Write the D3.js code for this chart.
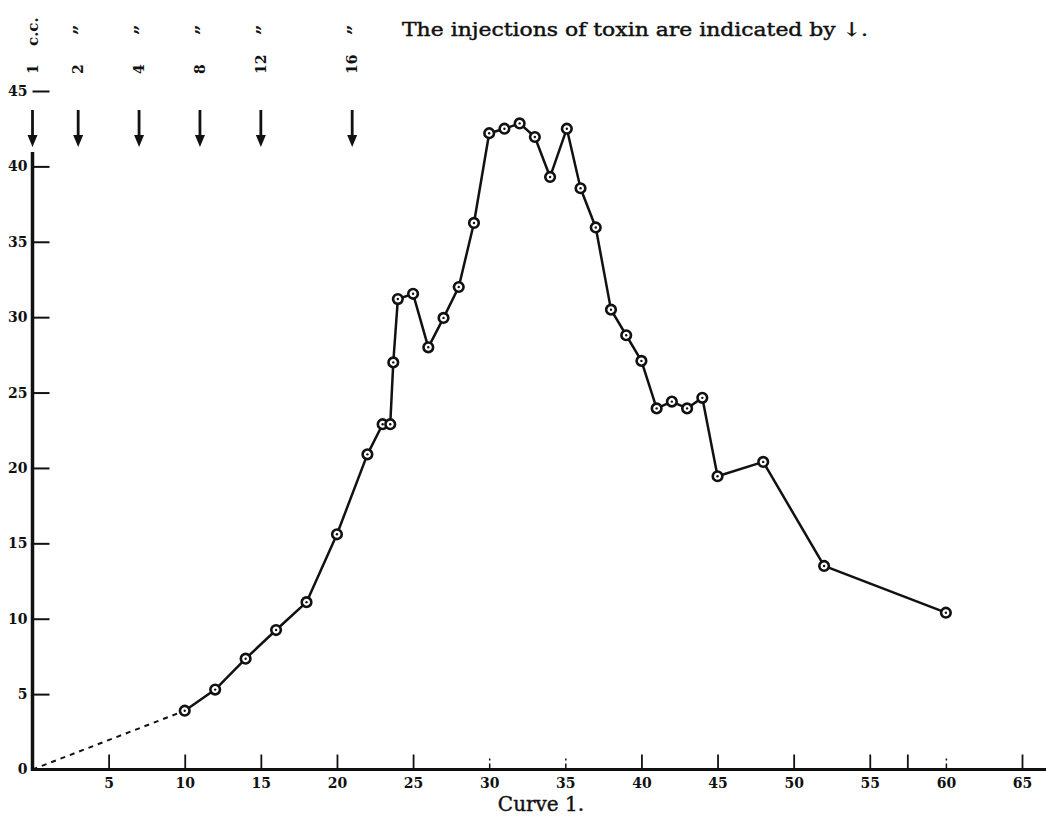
<!DOCTYPE html>
<html>
<head>
<meta charset="utf-8">
<script src="https://cdn.jsdelivr.net/npm/d3@7"></script>
<style>
  html, body { margin: 0; padding: 0; background: #fff; }
  svg { display: block; }
  .tick text { font-family: "DejaVu Serif", serif; font-weight: bold; font-size: 14px; fill: #111; }
</style>
</head>
<body>
<svg id="chart" width="1046" height="824"></svg>
<script>
// Temperature-like curve over days, with toxin injection days and doses
const days = [10, 12, 14, 16, 18, 20, 22, 23, 23.5, 23.7, 24, 25, 26, 27, 28, 29, 30, 31, 32, 33,
              34, 35.1, 36, 37, 38, 39, 40, 41, 42, 43, 44, 45, 48, 52, 60];
const values = [3.9, 5.3, 7.35, 9.25, 11.1, 15.6, 20.9, 22.9, 22.9, 27.0, 31.2, 31.55, 28.0, 29.95, 32.0,
                36.25, 42.2, 42.5, 42.85, 41.95, 39.3, 42.5, 38.55, 35.95, 30.5, 28.8, 27.1, 23.95,
                24.4, 23.95, 24.65, 19.45, 20.4, 13.5, 10.4];

const injectionDays = [0, 3, 7, 11, 15, 21];
const injectionDoses = ["1", "2", "4", "8", "12", "16"];

const xTickValues = [5, 10, 15, 20, 25, 30, 35, 40, 45, 50, 55, 60, 65];
const xExtraTicks = [57.5];
const xFaintTicks = [30, 35, 60];
const yTickValues = [5, 10, 15, 20, 25, 30, 35, 40, 45];

const svg = d3.select("#chart");
const ink = "#111";

const x = d3.scaleLinear().domain([0, 65]).range([32.5, 1022]);
const y = d3.scaleLinear().domain([0, 45]).range([769.5, 91]);

// y axis: ticks pointing into the plot, labels on the left
const yAxis = svg.append("g")
  .attr("transform", `translate(${x(0)},0)`)
  .call(d3.axisLeft(y).tickValues(yTickValues).tickSize(-17).tickPadding(5).tickFormat(d3.format("d")));
yAxis.select(".domain").remove();
yAxis.selectAll(".tick line").attr("stroke", ink).attr("stroke-width", 2);

// zero label at the origin
svg.append("text")
  .attr("x", x(0) - 5).attr("y", y(0)).attr("dy", "0.32em")
  .attr("text-anchor", "end")
  .style("font-family", "DejaVu Serif, serif").style("font-weight", "bold").style("font-size", "14px")
  .attr("fill", ink)
  .text("0");

// vertical axis line
svg.append("line")
  .attr("x1", x(0)).attr("x2", x(0))
  .attr("y1", 152).attr("y2", y(0) + 1.5)
  .attr("stroke", ink).attr("stroke-width", 3.5);

// x axis: ticks pointing up, labels below
const xAxis = svg.append("g")
  .attr("transform", `translate(0,${y(0)})`)
  .call(d3.axisBottom(x).tickValues(xTickValues).tickSize(-15).tickPadding(9).tickFormat(d3.format("d")));
xAxis.select(".domain").remove();
xAxis.selectAll(".tick line")
  .attr("stroke", ink).attr("stroke-width", 1.8)
  .each(function(d) {
    if (xFaintTicks.includes(d)) {
      d3.select(this).attr("y2", -13).attr("stroke-dasharray", "6,3,2,20").attr("stroke-width", 1.5);
    }
  });

xAxis.selectAll(".extra")
  .data(xExtraTicks)
  .join("line")
  .attr("x1", d => x(d)).attr("x2", d => x(d))
  .attr("y1", 0).attr("y2", -15)
  .attr("stroke", ink).attr("stroke-width", 1.8);

// horizontal axis line
svg.append("line")
  .attr("x1", x(0) - 1.5).attr("x2", 1046)
  .attr("y1", y(0)).attr("y2", y(0))
  .attr("stroke", ink).attr("stroke-width", 3);

// dashed lead-in from the origin to the first observation
svg.append("line")
  .attr("x1", x(0)).attr("y1", y(0))
  .attr("x2", x(days[0])).attr("y2", y(values[0]))
  .attr("stroke", ink).attr("stroke-width", 2).attr("stroke-dasharray", "5,5");

// the curve
const pts = days.map((d, i) => [d, values[i]]);
svg.append("path")
  .datum(pts)
  .attr("fill", "none")
  .attr("stroke", ink)
  .attr("stroke-width", 2.5)
  .attr("stroke-linejoin", "round")
  .attr("d", d3.line().x(d => x(d[0])).y(d => y(d[1])));

// ringed markers
const marks = svg.append("g").selectAll("g")
  .data(pts)
  .join("g")
  .attr("transform", d => `translate(${x(d[0])},${y(d[1])})`);
marks.append("circle").attr("r", 4.8).attr("fill", "#fff").attr("stroke", ink).attr("stroke-width", 2.6);
marks.append("circle").attr("r", 1.2).attr("fill", ink);

// injection arrows
const arrows = svg.append("g").selectAll("g")
  .data(injectionDays)
  .join("g")
  .attr("transform", d => `translate(${x(d)},0)`);
arrows.append("line")
  .attr("x1", 0).attr("x2", 0).attr("y1", 110).attr("y2", 138)
  .attr("stroke", ink).attr("stroke-width", 2.8);
arrows.append("path")
  .attr("d", "M-5,135 L5,135 L0,147 Z")
  .attr("fill", ink);

// dose labels, set vertically above each arrow
const doseStyle = sel => sel
  .style("font-family", "DejaVu Serif, serif")
  .style("font-weight", "bold")
  .style("font-size", "14px")
  .attr("fill", ink);

svg.append("g").selectAll("text")
  .data(injectionDays)
  .join("text")
  .attr("transform", d => `translate(${x(d) + 5},74) rotate(-90)`)
  .attr("text-anchor", "start")
  .call(doseStyle)
  .text((d, i) => injectionDoses[i]);

svg.append("text")
  .attr("transform", `translate(${x(injectionDays[0]) + 5},46) rotate(-90)`)
  .attr("text-anchor", "start")
  .call(doseStyle)
  .style("font-size", "15px")
  .text("c.c.");

svg.append("g").selectAll("text")
  .data(injectionDays.slice(1))
  .join("text")
  .attr("transform", d => `translate(${x(d) + 9},35) rotate(-90)`)
  .attr("text-anchor", "start")
  .call(doseStyle)
  .style("font-size", "18px")
  .text("\u201D");

// note on the arrows
svg.append("text")
  .attr("x", 402).attr("y", 36)
  .attr("textLength", 466).attr("lengthAdjust", "spacingAndGlyphs")
  .style("font-family", "DejaVu Serif, serif").style("font-size", "19px")
  .attr("fill", ink).attr("stroke", ink).attr("stroke-width", 0.45)
  .text("The injections of toxin are indicated by \u2193.");

// caption
svg.append("text")
  .attr("x", 541).attr("y", 811)
  .attr("text-anchor", "middle")
  .style("font-family", "DejaVu Serif, serif").style("font-size", "20px")
  .attr("fill", ink).attr("stroke", ink).attr("stroke-width", 0.4)
  .text("Curve 1.");
</script>
</body>
</html>
